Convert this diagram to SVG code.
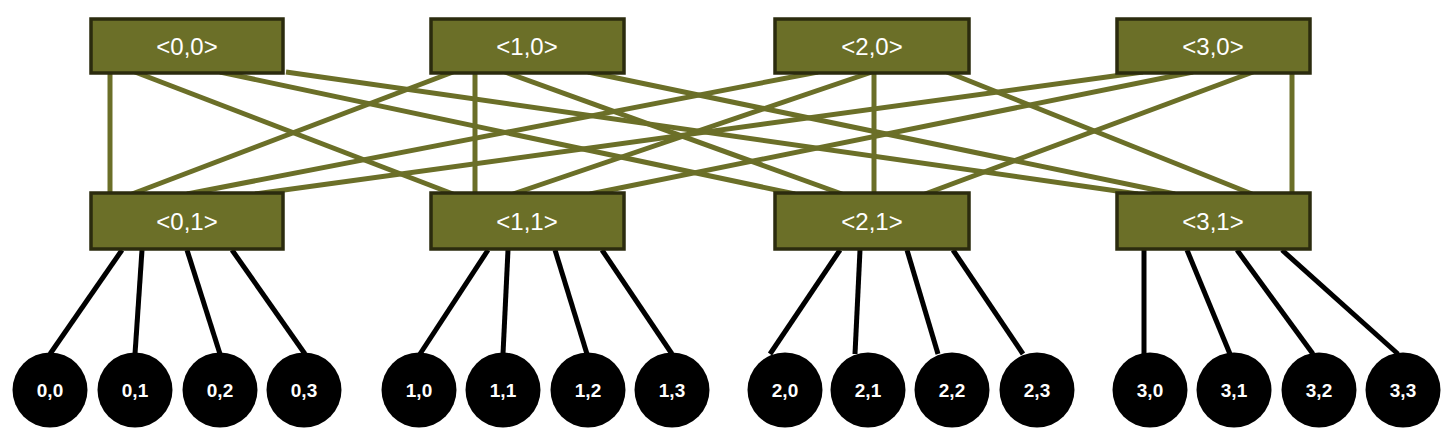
<svg xmlns="http://www.w3.org/2000/svg" width="1448" height="439" viewBox="0 0 1448 439">
<style>
.g{stroke:#6B6F28;stroke-width:5;fill:none}
.k{stroke:#000;stroke-width:5;fill:none}
.box{fill:#6B6F28;stroke:#2B2B0E;stroke-width:3.5}
.bt{font-family:"Liberation Sans",Arial,sans-serif;font-size:24px;fill:#fff;text-anchor:middle}
.c{fill:#000}
.ct{font-family:"Liberation Sans",Arial,sans-serif;font-size:19px;font-weight:bold;fill:#fff;text-anchor:middle}
</style>
<rect width="1448" height="439" fill="#fff"/>
<g id="connectors">
<g class="g">
<line x1="110" y1="72" x2="110" y2="194"/>
<line x1="135" y1="72" x2="453" y2="194"/>
<line x1="220" y1="72" x2="795" y2="194"/>
<line x1="286" y1="72" x2="1138" y2="194"/>
<line x1="453" y1="72" x2="132" y2="194"/>
<line x1="475" y1="72" x2="475" y2="194"/>
<line x1="505" y1="72" x2="842" y2="194"/>
<line x1="588" y1="72" x2="1175" y2="194"/>
<line x1="818" y1="72" x2="187" y2="194"/>
<line x1="872" y1="72" x2="513" y2="194"/>
<line x1="874" y1="72" x2="874" y2="194"/>
<line x1="947" y1="72" x2="1252" y2="194"/>
<line x1="1143" y1="72" x2="255" y2="194"/>
<line x1="1193" y1="72" x2="590" y2="194"/>
<line x1="1253" y1="72" x2="925" y2="194"/>
<line x1="1292" y1="72" x2="1292" y2="194"/>
</g>
<g class="k">
<line x1="122" y1="250" x2="50" y2="354"/>
<line x1="142" y1="250" x2="135" y2="354"/>
<line x1="187" y1="250" x2="220" y2="354"/>
<line x1="232" y1="250" x2="305" y2="354"/>
<line x1="488" y1="250" x2="420" y2="354"/>
<line x1="508" y1="250" x2="503" y2="354"/>
<line x1="555" y1="250" x2="587" y2="354"/>
<line x1="602" y1="250" x2="672" y2="354"/>
<line x1="840" y1="250" x2="770" y2="354"/>
<line x1="860" y1="250" x2="855" y2="354"/>
<line x1="907" y1="250" x2="938" y2="354"/>
<line x1="953" y1="250" x2="1023" y2="354"/>
<line x1="1144" y1="250" x2="1144" y2="354"/>
<line x1="1187" y1="250" x2="1230" y2="354"/>
<line x1="1237" y1="250" x2="1313" y2="354"/>
<line x1="1282" y1="250" x2="1398" y2="354"/>
</g>
</g>
<g id="s00"><rect class="box" x="91" y="19" width="192" height="54"/><text class="bt" x="187" y="54.5">&lt;0,0&gt;</text></g>
<g id="s10"><rect class="box" x="431" y="19" width="193" height="54"/><text class="bt" x="527" y="54.5">&lt;1,0&gt;</text></g>
<g id="s20"><rect class="box" x="775" y="19" width="194" height="54"/><text class="bt" x="872" y="54.5">&lt;2,0&gt;</text></g>
<g id="s30"><rect class="box" x="1117" y="19" width="193" height="54"/><text class="bt" x="1213" y="54.5">&lt;3,0&gt;</text></g>
<g id="s01"><rect class="box" x="91" y="193" width="192" height="56"/><text class="bt" x="187" y="229.5">&lt;0,1&gt;</text></g>
<g id="s11"><rect class="box" x="431" y="193" width="193" height="56"/><text class="bt" x="527" y="229.5">&lt;1,1&gt;</text></g>
<g id="s21"><rect class="box" x="775" y="193" width="194" height="56"/><text class="bt" x="872" y="229.5">&lt;2,1&gt;</text></g>
<g id="s31"><rect class="box" x="1117" y="193" width="193" height="56"/><text class="bt" x="1213" y="229.5">&lt;3,1&gt;</text></g>
<g id="n00"><circle class="c" cx="50" cy="390" r="37.5"/><text class="ct" x="50" y="397">0,0</text></g>
<g id="n01"><circle class="c" cx="135" cy="390" r="37.5"/><text class="ct" x="135" y="397">0,1</text></g>
<g id="n02"><circle class="c" cx="220" cy="390" r="37.5"/><text class="ct" x="220" y="397">0,2</text></g>
<g id="n03"><circle class="c" cx="304" cy="390" r="37.5"/><text class="ct" x="304" y="397">0,3</text></g>
<g id="n10"><circle class="c" cx="419" cy="390" r="37.5"/><text class="ct" x="419" y="397">1,0</text></g>
<g id="n11"><circle class="c" cx="503" cy="390" r="37.5"/><text class="ct" x="503" y="397">1,1</text></g>
<g id="n12"><circle class="c" cx="588" cy="390" r="37.5"/><text class="ct" x="588" y="397">1,2</text></g>
<g id="n13"><circle class="c" cx="672" cy="390" r="37.5"/><text class="ct" x="672" y="397">1,3</text></g>
<g id="n20"><circle class="c" cx="785" cy="390" r="37.5"/><text class="ct" x="785" y="397">2,0</text></g>
<g id="n21"><circle class="c" cx="868" cy="390" r="37.5"/><text class="ct" x="868" y="397">2,1</text></g>
<g id="n22"><circle class="c" cx="952" cy="390" r="37.5"/><text class="ct" x="952" y="397">2,2</text></g>
<g id="n23"><circle class="c" cx="1037" cy="390" r="37.5"/><text class="ct" x="1037" y="397">2,3</text></g>
<g id="n30"><circle class="c" cx="1150" cy="390" r="37.5"/><text class="ct" x="1150" y="397">3,0</text></g>
<g id="n31"><circle class="c" cx="1234" cy="390" r="37.5"/><text class="ct" x="1234" y="397">3,1</text></g>
<g id="n32"><circle class="c" cx="1319" cy="390" r="37.5"/><text class="ct" x="1319" y="397">3,2</text></g>
<g id="n33"><circle class="c" cx="1403" cy="390" r="37.5"/><text class="ct" x="1403" y="397">3,3</text></g>
</svg>
